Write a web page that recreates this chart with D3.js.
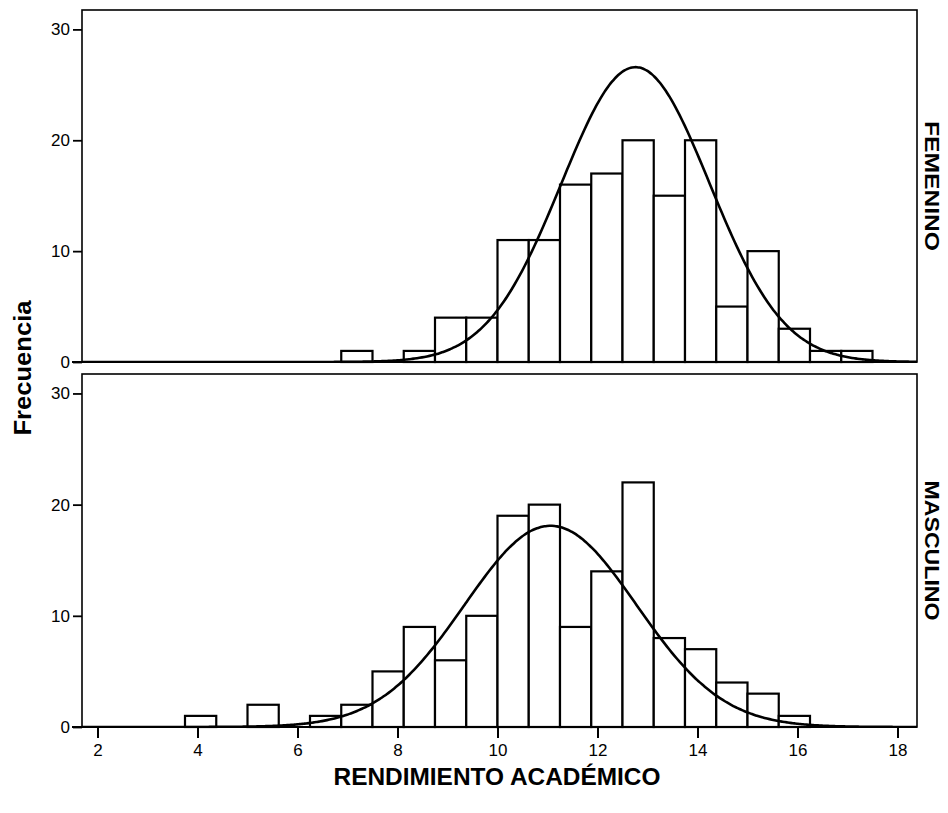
<!DOCTYPE html>
<html lang="es">
<head>
  <meta charset="UTF-8">
  <title>histograma</title>
</head>
<body>
<style>
  * {
    padding: 0;
    margin: 0;
  }
  body {
    background: #fff;
  }
  svg text {
    font-family: "Liberation Sans", Arial, sans-serif;
  }
</style>

<div id="app"></div>

<script src="https://cdn.jsdelivr.net/npm/d3@7/dist/d3.min.js"></script>
<script>
  // bin width of the histogram
  let binWidth = 0.625;

  // FEMENINO
  let femBins = [6.875, 7.5, 8.125, 8.75, 9.375, 10, 10.625, 11.25, 11.875, 12.5, 13.125, 13.75, 14.375, 15, 15.625, 16.25, 16.875];
  let femCounts = [1, 0, 1, 4, 4, 11, 11, 16, 17, 20, 15, 20, 5, 10, 3, 1, 1];
  let femCurve = {mean: 12.76, sd: 1.48, peak: 26.6};

  // MASCULINO
  let mascBins = [3.75, 4.375, 5, 5.625, 6.25, 6.875, 7.5, 8.125, 8.75, 9.375, 10, 10.625, 11.25, 11.875, 12.5, 13.125, 13.75, 14.375, 15, 15.625];
  let mascCounts = [1, 0, 2, 0, 1, 2, 5, 9, 6, 10, 19, 20, 9, 14, 22, 8, 7, 4, 3, 1];
  let mascCurve = {mean: 11.06, sd: 1.72, peak: 18.1};

  let xTicks = [2, 4, 6, 8, 10, 12, 14, 16, 18];
  let yTicks = [0, 10, 20, 30];
  let panelNames = ["FEMENINO", "MASCULINO"];

  let $width = 948, $height = 813;
  let left = 82, right = 917;
  let panels = [
    {top: 10, bottom: 362, bins: femBins, counts: femCounts, curve: femCurve, name: panelNames[0], len: 130},
    {top: 374, bottom: 727, bins: mascBins, counts: mascCounts, curve: mascCurve, name: panelNames[1], len: 140}
  ];

  var svg = d3.select("#app").append("svg").attr("width", $width).attr("height", $height)

  var x = d3.scaleLinear().domain([1.69, 18.39]).range([left, right]);

  panels.forEach(function (p, pi) {
    var y = d3.scaleLinear().domain([0, 31.75]).range([p.bottom, p.top]);
    var g = svg.append("g");

    g.append("clipPath").attr("id", "clip" + pi).append("rect")
      .attr("x", left).attr("y", p.top).attr("width", right - left).attr("height", p.bottom - p.top);

    // frame
    g.append("rect").attr("x", left).attr("y", p.top)
      .attr("width", right - left).attr("height", p.bottom - p.top)
      .attr("fill", "none").attr("stroke", "#000").attr("stroke-width", 1.6);

    // bars
    var data = p.bins.map(function (b, i) { return {x0: b, n: p.counts[i]} }).filter(function (d) { return d.n > 0 });
    g.selectAll("rect.bar").data(data).enter().append("rect").attr("class", "bar")
      .attr("x", function (d) { return x(d.x0) })
      .attr("width", function (d) { return x(d.x0 + binWidth) - x(d.x0) })
      .attr("y", function (d) { return y(d.n) })
      .attr("height", function (d) { return y(0) - y(d.n) })
      .attr("fill", "#fff").attr("stroke", "#000").attr("stroke-width", 2.2);

    // normal curve
    var c = p.curve;
    var pts = d3.range(1.69, 18.4, 0.05).map(function (v) {
      return [v, c.peak * Math.exp(-Math.pow(v - c.mean, 2) / (2 * c.sd * c.sd))];
    });
    g.append("path").datum(pts)
      .attr("clip-path", "url(#clip" + pi + ")")
      .attr("d", d3.line().x(function (d) { return x(d[0]) }).y(function (d) { return y(d[1]) }).curve(d3.curveBasis))
      .attr("fill", "none").attr("stroke", "#000").attr("stroke-width", 2.6);

    // baseline
    g.append("line").attr("x1", left - 10).attr("x2", right).attr("y1", p.bottom).attr("y2", p.bottom)
      .attr("stroke", "#000").attr("stroke-width", 2.2);

    // y axis
    var ya = g.append("g").attr("transform", "translate(" + left + ",0)")
      .call(d3.axisLeft(y).tickValues(yTicks).tickSize(9).tickPadding(3).tickFormat(d3.format("d")));
    ya.select(".domain").remove();
    ya.selectAll("line").attr("stroke-width", 1.8);
    ya.selectAll("text").attr("font-size", "17px").attr("fill", "#000")
      .attr("font-family", "'Liberation Sans', Arial, sans-serif");

    // strip label
    g.append("text").text(p.name)
      .attr("transform", "translate(" + 925 + "," + ((p.top + p.bottom) / 2) + ") rotate(90)")
      .attr("text-anchor", "middle").attr("font-size", "20px").attr("font-weight", "bold")
      .attr("textLength", p.len).attr("lengthAdjust", "spacingAndGlyphs");

    if (pi === 1) {
      var xa = g.append("g").attr("transform", "translate(0," + p.bottom + ")")
        .call(d3.axisBottom(x).tickValues(xTicks).tickSize(11).tickPadding(6).tickFormat(d3.format("d")));
      xa.select(".domain").remove();
      xa.selectAll("line").attr("stroke-width", 2);
      xa.selectAll("text").attr("font-size", "17px").attr("fill", "#000")
        .attr("font-family", "'Liberation Sans', Arial, sans-serif");
    }
  });

  svg.append("text").text("Frecuencia")
    .attr("transform", "translate(31,368) rotate(-90)")
    .attr("text-anchor", "middle").attr("font-size", "23px").attr("font-weight", "bold")
    .attr("textLength", 135).attr("lengthAdjust", "spacingAndGlyphs");

  svg.append("text").text("RENDIMIENTO ACADÉMICO")
    .attr("x", 497).attr("y", 785)
    .attr("text-anchor", "middle").attr("font-size", "23px").attr("font-weight", "bold")
    .attr("textLength", 327).attr("lengthAdjust", "spacingAndGlyphs");
</script>
</body>
</html>
